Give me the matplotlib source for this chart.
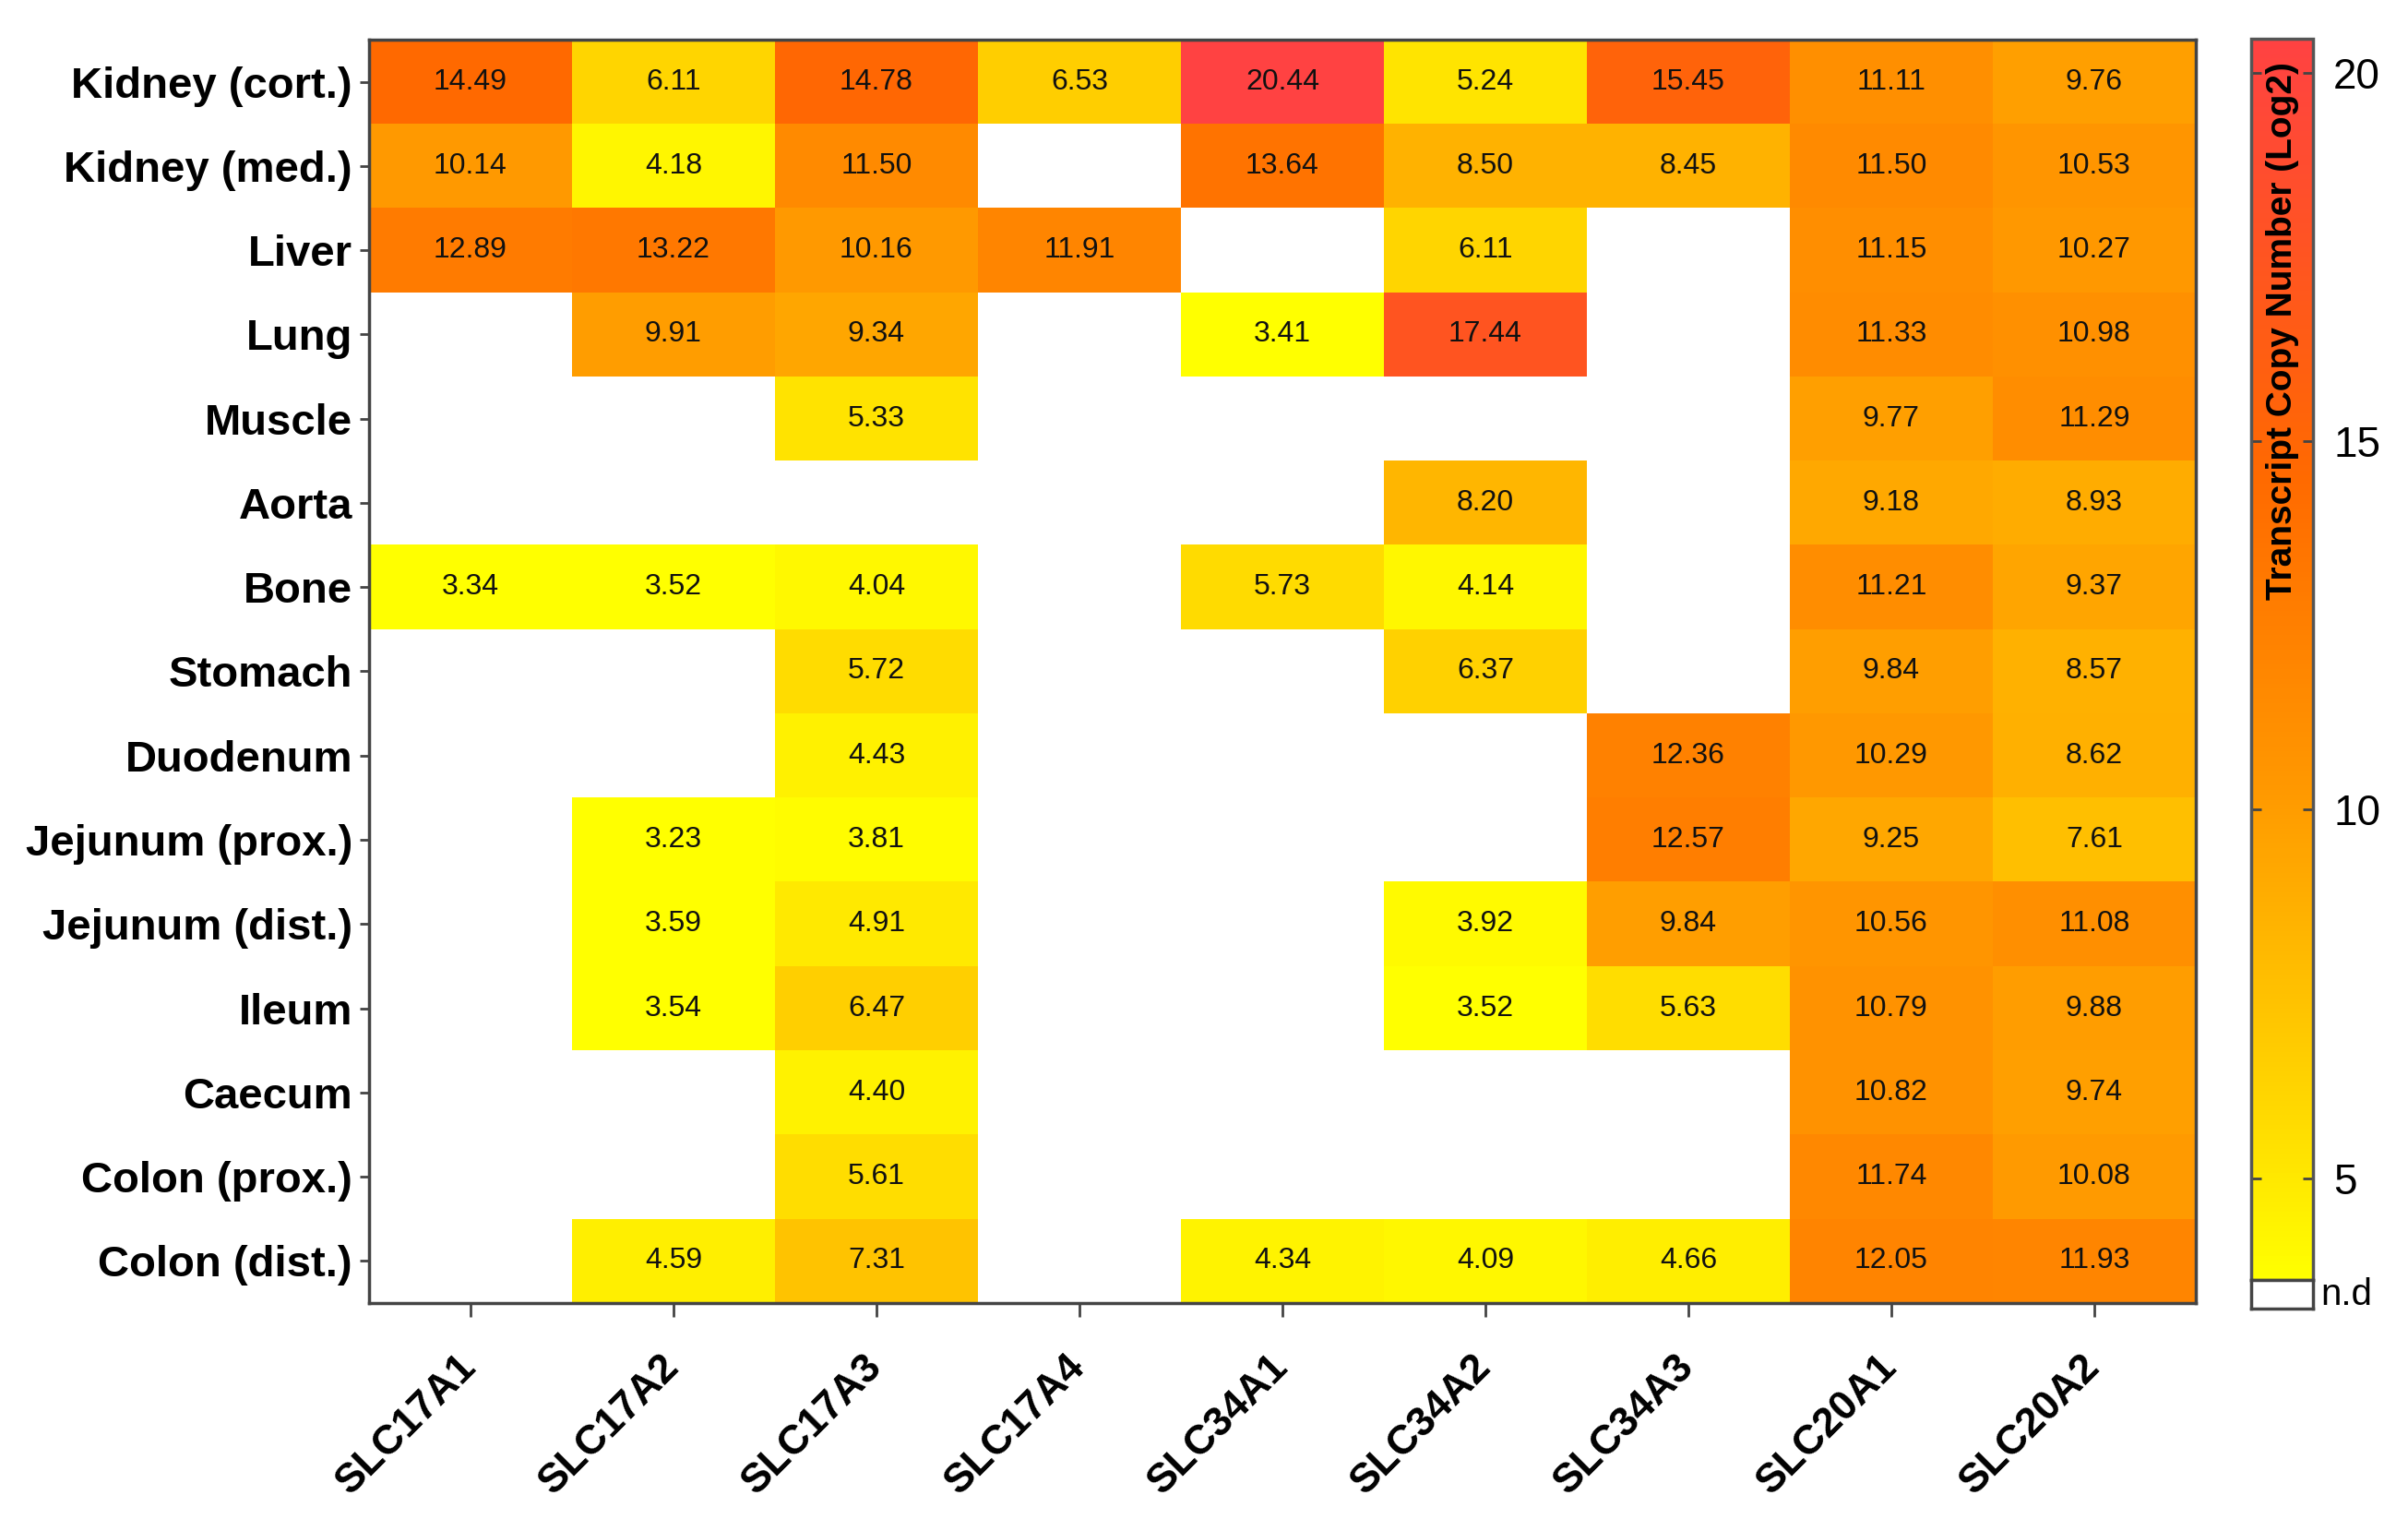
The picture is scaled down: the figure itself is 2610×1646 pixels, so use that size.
import matplotlib
matplotlib.use('Agg')
import matplotlib.pyplot as plt
import numpy as np
from matplotlib.colors import LinearSegmentedColormap, Normalize
from matplotlib.cm import ScalarMappable

plt.rcParams['font.family'] = ['Liberation Sans', 'DejaVu Sans']

# Data (None = not detected)
tissues = ['Kidney (cort.)', 'Kidney (med.)', 'Liver', 'Lung', 'Muscle', 'Aorta',
           'Bone', 'Stomach', 'Duodenum', 'Jejunum (prox.)', 'Jejunum (dist.)',
           'Ileum', 'Caecum', 'Colon (prox.)', 'Colon (dist.)']
genes = ['SLC17A1', 'SLC17A2', 'SLC17A3', 'SLC17A4', 'SLC34A1',
         'SLC34A2', 'SLC34A3', 'SLC20A1', 'SLC20A2']

slc17a1 = [14.49, 10.14, 12.89, None, None, None, 3.34, None, None, None, None, None, None, None, None]
slc17a2 = [6.11, 4.18, 13.22, 9.91, None, None, 3.52, None, None, 3.23, 3.59, 3.54, None, None, 4.59]
slc17a3 = [14.78, 11.50, 10.16, 9.34, 5.33, None, 4.04, 5.72, 4.43, 3.81, 4.91, 6.47, 4.40, 5.61, 7.31]
slc17a4 = [6.53, None, 11.91, None, None, None, None, None, None, None, None, None, None, None, None]
slc34a1 = [20.44, 13.64, None, 3.41, None, None, 5.73, None, None, None, None, None, None, None, 4.34]
slc34a2 = [5.24, 8.50, 6.11, 17.44, None, 8.20, 4.14, 6.37, None, None, 3.92, 3.52, None, None, 4.09]
slc34a3 = [15.45, 8.45, None, None, None, None, None, None, 12.36, 12.57, 9.84, 5.63, None, None, 4.66]
slc20a1 = [11.11, 11.50, 11.15, 11.33, 9.77, 9.18, 11.21, 9.84, 10.29, 9.25, 10.56, 10.79, 10.82, 11.74, 12.05]
slc20a2 = [9.76, 10.53, 10.27, 10.98, 11.29, 8.93, 9.37, 8.57, 8.62, 7.61, 11.08, 9.88, 9.74, 10.08, 11.93]

cbar_ticks = [5, 10, 15, 20]

columns = [slc17a1, slc17a2, slc17a3, slc17a4, slc34a1, slc34a2, slc34a3, slc20a1, slc20a2]
data = np.array([[np.nan if v is None else v for v in col] for col in columns]).T
masked = np.ma.masked_invalid(data)

vmin, vmax = 3.62, 20.46
def pos(v):
    return (v - vmin) / (vmax - vmin)

cmap = LinearSegmentedColormap.from_list('yor', [
    (0.0, '#FFFF00'),
    (pos(6.11), '#FFD500'),
    (pos(10.29), '#FF9800'),
    (pos(14.49), '#FF6A00'),
    (pos(17.44), '#FF5520'),
    (1.0, '#FF4242'),
])
cmap.set_bad('white')
norm = Normalize(vmin=vmin, vmax=vmax)

W, H = 2610, 1646
fig = plt.figure(figsize=(W / 100, H / 100), dpi=100)
ax = fig.add_axes([400 / W, 1 - 1412 / H, 1980 / W, (1412 - 43) / H])

ax.imshow(masked, cmap=cmap, norm=norm, aspect='auto', interpolation='nearest')

# cell values
for i in range(data.shape[0]):
    for j in range(data.shape[1]):
        if not np.isnan(data[i, j]):
            ax.text(j, i, f'{data[i, j]:.2f}', ha='center', va='center',
                    fontsize=23, color='#111111')

ax.set_xticks(np.arange(len(genes)))
ax.set_xticklabels(genes, fontsize=32, fontweight='bold')
ax.set_yticks(np.arange(len(tissues)))
ax.set_yticklabels(tissues, fontsize=34, fontweight='bold')
plt.setp(ax.get_xticklabels(), rotation=45, ha='right', va='center', rotation_mode='anchor')

ax.tick_params(axis='y', length=7, width=2, pad=6, color='#444444')
ax.tick_params(axis='x', length=11, width=2, pad=34, color='#444444')
for s in ax.spines.values():
    s.set_color('#444444')
    s.set_linewidth(2.5)

# colorbar
cax = fig.add_axes([2440 / W, 1 - 1387 / H, 67 / W, 1345 / H])
cb = fig.colorbar(ScalarMappable(norm=norm, cmap=cmap), cax=cax)
cb.set_ticks(cbar_ticks)
cb.outline.set_edgecolor('#555555')
cb.outline.set_linewidth(2.5)
cax.tick_params(axis='y', direction='in', length=8, width=2, color='#444444',
                left=True, right=True, labelsize=33, pad=16)
cax.text(0.5, 0.765, 'Transcript Copy Number (Log2)', transform=cax.transAxes,
         rotation=90, ha='center', va='center', fontsize=28, fontweight='bold')

# n.d box
nd = fig.add_axes([2440 / W, 1 - 1418 / H, 67 / W, 31 / H])
nd.set_facecolor('white')
nd.set_xticks([])
nd.set_yticks([])
for s in nd.spines.values():
    s.set_color('#444444')
    s.set_linewidth(2.5)
nd.text(1.12, 0.5, 'n.d', transform=nd.transAxes, ha='left', va='center', fontsize=29)

fig.savefig('out.png', dpi=100, facecolor='white')
